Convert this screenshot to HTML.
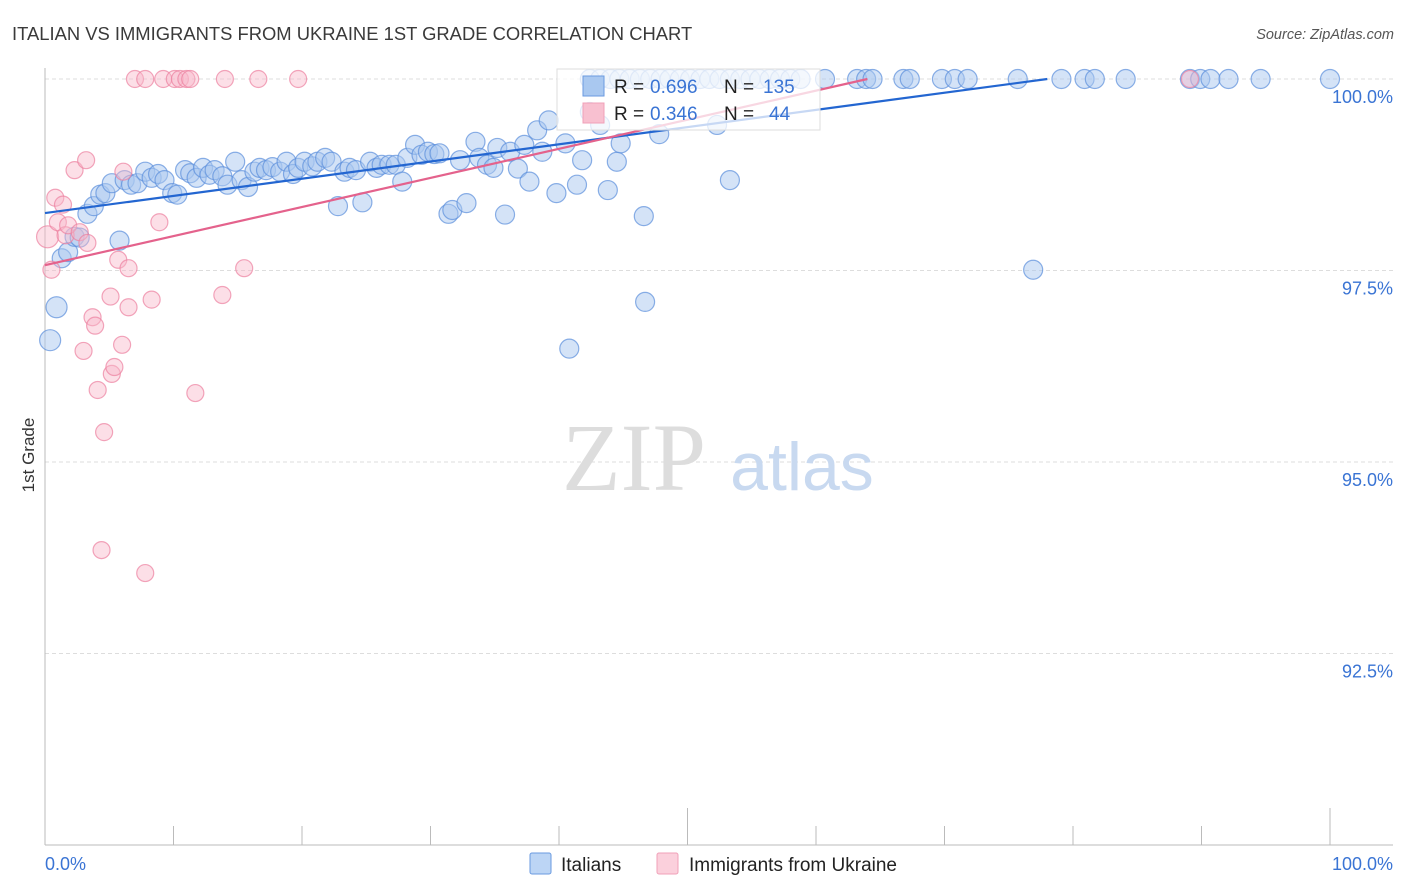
<!DOCTYPE html>
<html><head><meta charset="utf-8"><style>
body{margin:0;background:#fff;font-family:"Liberation Sans",sans-serif}
svg{display:block}
</style></head><body>
<svg width="1406" height="892" xmlns="http://www.w3.org/2000/svg">
<text x="12" y="40" font-size="18.4" fill="#3a3a3a">ITALIAN VS IMMIGRANTS FROM UKRAINE 1ST GRADE CORRELATION CHART</text>
<text x="1394" y="39" font-size="14.5" fill="#555" font-style="italic" text-anchor="end">Source: ZipAtlas.com</text>
<text transform="translate(34,455) rotate(-90)" font-size="17" fill="#333" text-anchor="middle">1st Grade</text>
<g id="grid"></g>
<g>
<text x="634" y="490" font-size="96" font-family="Liberation Serif,serif" fill="#ddd" text-anchor="middle">ZIP</text>
<text x="802" y="490" font-size="68" fill="#c8d9f0" text-anchor="middle">atlas</text>
</g>
<g id="pts"></g>
<g id="lines"></g>
<g>
<rect x="557" y="69" width="263" height="61" fill="#fff" fill-opacity="0.75" stroke="#ddd"/>
<rect x="583" y="76" width="21" height="20" fill="#a9c8f0" stroke="#6a9ae0"/>
<rect x="583" y="103" width="21" height="20" fill="#f8c0d0" stroke="#f0a0b8"/>
<text x="614" y="93" font-size="19" fill="#222">R =</text>
<text x="650" y="93" font-size="19" fill="#3a74d4">0.696</text>
<text x="724" y="93" font-size="19" fill="#222">N =</text>
<text x="763" y="93" font-size="19" fill="#3a74d4">135</text>
<text x="614" y="120" font-size="19" fill="#222">R =</text>
<text x="650" y="120" font-size="19" fill="#3a74d4">0.346</text>
<text x="724" y="120" font-size="19" fill="#222">N =</text>
<text x="769" y="120" font-size="19" fill="#3a74d4">44</text>
</g>
<g>
<rect x="530" y="853" width="21" height="21" fill="#bcd5f5" stroke="#6a9ae0" rx="2"/>
<text x="561" y="871" font-size="19" fill="#222">Italians</text>
<rect x="657" y="853" width="21" height="21" fill="#fbd0dc" stroke="#f0a0b8" rx="2"/>
<text x="689" y="871" font-size="19" fill="#222">Immigrants from Ukraine</text>
</g>
<text x="45" y="870" font-size="18" fill="#3a74d4">0.0%</text>
<text x="1393" y="870" font-size="18" fill="#3a74d4" text-anchor="end">100.0%</text>
</svg>
<script>
const yTicks=[100,97.5,95,92.5];
const yTickLabels=["100.0%","97.5%","95.0%","92.5%"];
const blueX=[0.4,0.9,1.3,1.8,2.3,2.7,3.3,3.8,4.3,4.7,5.2,5.8,6.2,6.7,7.2,7.8,8.3,8.8,9.3,9.9,10.3,10.9,11.3,11.8,12.3,12.8,13.2,13.8,14.2,14.8,15.3,15.8,16.3,16.7,17.2,17.7,18.3,18.8,19.3,19.7,20.2,20.8,21.2,21.8,22.3,22.8,23.3,23.7,24.2,24.7,25.3,25.8,26.2,26.8,27.3,27.8,28.2,28.8,29.3,29.8,30.3,30.7,31.4,31.7,32.3,32.8,33.5,33.8,34.4,34.9,35.2,35.8,36.2,36.8,37.3,37.7,38.3,38.7,39.2,39.8,40.5,40.8,41.4,41.8,42.4,43.2,43.8,44.5,44.8,46.6,46.7,47.8,52.3,53.3,76.9,
42.4,43.2,44.0,44.7,45.5,46.3,47.1,47.9,48.6,49.4,50.2,51.0,51.7,52.5,53.3,54.1,54.9,55.6,56.4,57.2,58.0,58.8,60.7,63.2,63.9,64.4,66.8,67.3,69.8,70.8,71.8,75.7,79.1,80.9,81.7,84.1,89.1,89.9,90.7,92.1,94.6,100];
const blueY=[96.59,97.02,97.66,97.74,97.94,97.93,98.24,98.34,98.49,98.51,98.64,97.89,98.68,98.62,98.64,98.79,98.71,98.76,98.68,98.51,98.49,98.81,98.77,98.71,98.84,98.75,98.81,98.73,98.62,98.92,98.68,98.59,98.79,98.84,98.81,98.85,98.79,98.92,98.76,98.84,98.92,98.86,98.92,98.97,98.92,98.34,98.79,98.84,98.81,98.39,98.92,98.84,98.88,98.88,98.88,98.66,98.97,99.14,99.01,99.05,99.02,99.03,98.24,98.29,98.94,98.38,99.18,98.97,98.88,98.84,99.10,98.23,99.05,98.83,99.14,98.66,99.33,99.05,99.46,98.51,99.16,96.48,98.62,98.94,99.57,99.40,98.55,98.92,99.16,98.21,97.09,99.28,99.40,98.68,97.51,
100,100,100,100,100,100,100,100,100,100,100,100,100,100,100,100,100,100,100,100,100,100,100,100,100,100,100,100,100,100,100,100,100,100,100,100,100,100,100,100,100,100];
const pinkX=[7.0,7.8,9.2,10.1,10.5,11.0,11.3,14.0,16.6,19.7,89.1,0.2,0.5,0.8,1.0,1.4,1.6,1.8,2.3,2.7,3.2,3.3,3.0,3.7,3.9,4.1,4.6,4.4,5.1,5.2,5.4,5.7,6.0,6.1,6.5,6.5,7.8,8.3,8.9,11.7,13.8,15.5];
const pinkY=[100,100,100,100,100,100,100,100,100,100,100,97.94,97.51,98.45,98.13,98.36,97.96,98.09,98.81,98.00,98.94,97.86,96.45,96.89,96.78,95.94,95.39,93.85,97.16,96.15,96.24,97.64,96.53,98.79,97.53,97.02,93.55,97.12,98.13,95.90,97.18,97.53];
const blueTrend=[[0,98.25],[78,100]];
const pinkTrend=[[0,97.57],[64,100]];
const X=v=>45+v*12.85, Y=v=>79+(100-v)*76.6;
const NS="http://www.w3.org/2000/svg";
const grid=document.getElementById('grid'),pts=document.getElementById('pts'),lines=document.getElementById('lines');
function mk(tag,attrs,parent){const e=document.createElementNS(NS,tag);for(const k in attrs)e.setAttribute(k,attrs[k]);parent.appendChild(e);return e;}
yTicks.forEach((t,i)=>{
 const l=mk('line',{x1:45,x2:1393,y1:Y(t),y2:Y(t),stroke:'#ddd','stroke-dasharray':'4,3'},grid);
 
 
 const tx=mk('text',{x:1393,y:Y(t)+24,'font-size':18,fill:'#3a74d4','text-anchor':'end'},grid);
 tx.textContent=yTickLabels[i];
 
 
});
const ax=mk('line',{x1:45,x2:45,y1:68,y2:845,stroke:'#bbb'},grid);


const bx=mk('line',{x1:45,x2:1393,y1:845,y2:845,stroke:'#bbb'},grid);


for(let i=0;i<=10;i++){const xv=i*10;const tl=mk('line',{x1:X(xv),x2:X(xv),y1:(i==5||i==10)?808:826,y2:845,stroke:'#bbb'},grid);
 
 }
blueX.forEach((x,i)=>{const c=mk('circle',{cx:X(x),cy:Y(blueY[i]),r:(i<2?10.5:9.5),fill:'#a9c8f0','fill-opacity':0.5,stroke:'#5b8fdc','stroke-opacity':0.7,'stroke-width':1.2},pts);
 
 });
pinkX.forEach((x,i)=>{const c=mk('circle',{cx:X(x),cy:Y(pinkY[i]),r:(i==11?11:8.5),fill:'#f8b8ca','fill-opacity':0.45,stroke:'#ec809f','stroke-opacity':0.7,'stroke-width':1.2},pts);
 
 });
const bl=mk('line',{x1:X(blueTrend[0][0]),y1:Y(blueTrend[0][1]),x2:X(blueTrend[1][0]),y2:Y(blueTrend[1][1]),stroke:'#2366d1','stroke-width':2.2},lines);


const pl=mk('line',{x1:X(pinkTrend[0][0]),y1:Y(pinkTrend[0][1]),x2:X(pinkTrend[1][0]),y2:Y(pinkTrend[1][1]),stroke:'#e4628c','stroke-width':2.2},lines);


</script>
</body></html>
